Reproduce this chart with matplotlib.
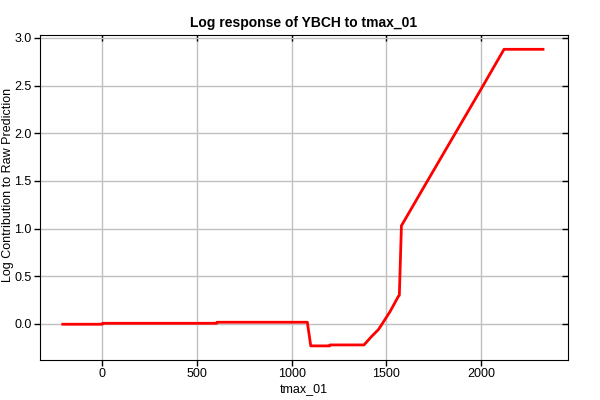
import matplotlib
matplotlib.use('Agg')
import matplotlib.pyplot as plt

plt.rcParams['font.family'] = ['Liberation Sans', 'DejaVu Sans']

# Response curve (tmax_01 vs log contribution)
tmax = [-209, 0, 2, 604, 606, 1083, 1101, 1200, 1203, 1382, 1423, 1458, 1478,
        1520, 1564, 1569, 1580, 1700, 1850, 2000, 2122, 2328]
log_contrib = [-0.003, -0.003, 0.007, 0.007, 0.018, 0.018, -0.23, -0.23, -0.22, -0.22,
               -0.13, -0.06, 0.0, 0.13, 0.29, 0.30, 1.03, 1.44, 1.95, 2.46, 2.88, 2.88]

x_ticks = [0, 500, 1000, 1500, 2000]
y_ticks = [0.0, 0.5, 1.0, 1.5, 2.0, 2.5, 3.0]

fig = plt.figure(figsize=(6, 4), dpi=100)
ax = fig.add_axes([0.0667, 0.1, 0.88, 0.8125])

ax.plot(tmax, log_contrib, color='#ff0000', linewidth=2, solid_joinstyle='round')

ax.set_xlim(-329, 2460)
ax.set_ylim(-0.378, 3.03)
ax.set_xticks(x_ticks)
ax.set_yticks(y_ticks)
ax.set_yticklabels([f'{v:.1f}' for v in y_ticks])
ax.grid(True, color='#c0c0c0', linewidth=1)
ax.set_axisbelow(True)

ax.tick_params(axis='both', labelsize=9, length=4, width=1, direction='out', pad=2)
ax.tick_params(top=True, right=True)
for t in ax.xaxis.get_major_ticks():
    t.tick2line.set_marker(3)  # inward on top
for t in ax.yaxis.get_major_ticks():
    t.tick2line.set_marker(0)  # inward on right

ax.set_xlabel('tmax_01', fontsize=9, labelpad=2)
# y label placed by hand so it sits just inside the left edge
fig.text(8 / 600, 1 - 185 / 400, 'Log Contribution to Raw Prediction', fontsize=9,
         rotation=90, ha='center', va='center')
ax.set_title('Log response of YBCH to tmax_01', fontsize=10, fontweight='bold', pad=6)

plt.savefig('out.png', dpi=100)
plt.close()
